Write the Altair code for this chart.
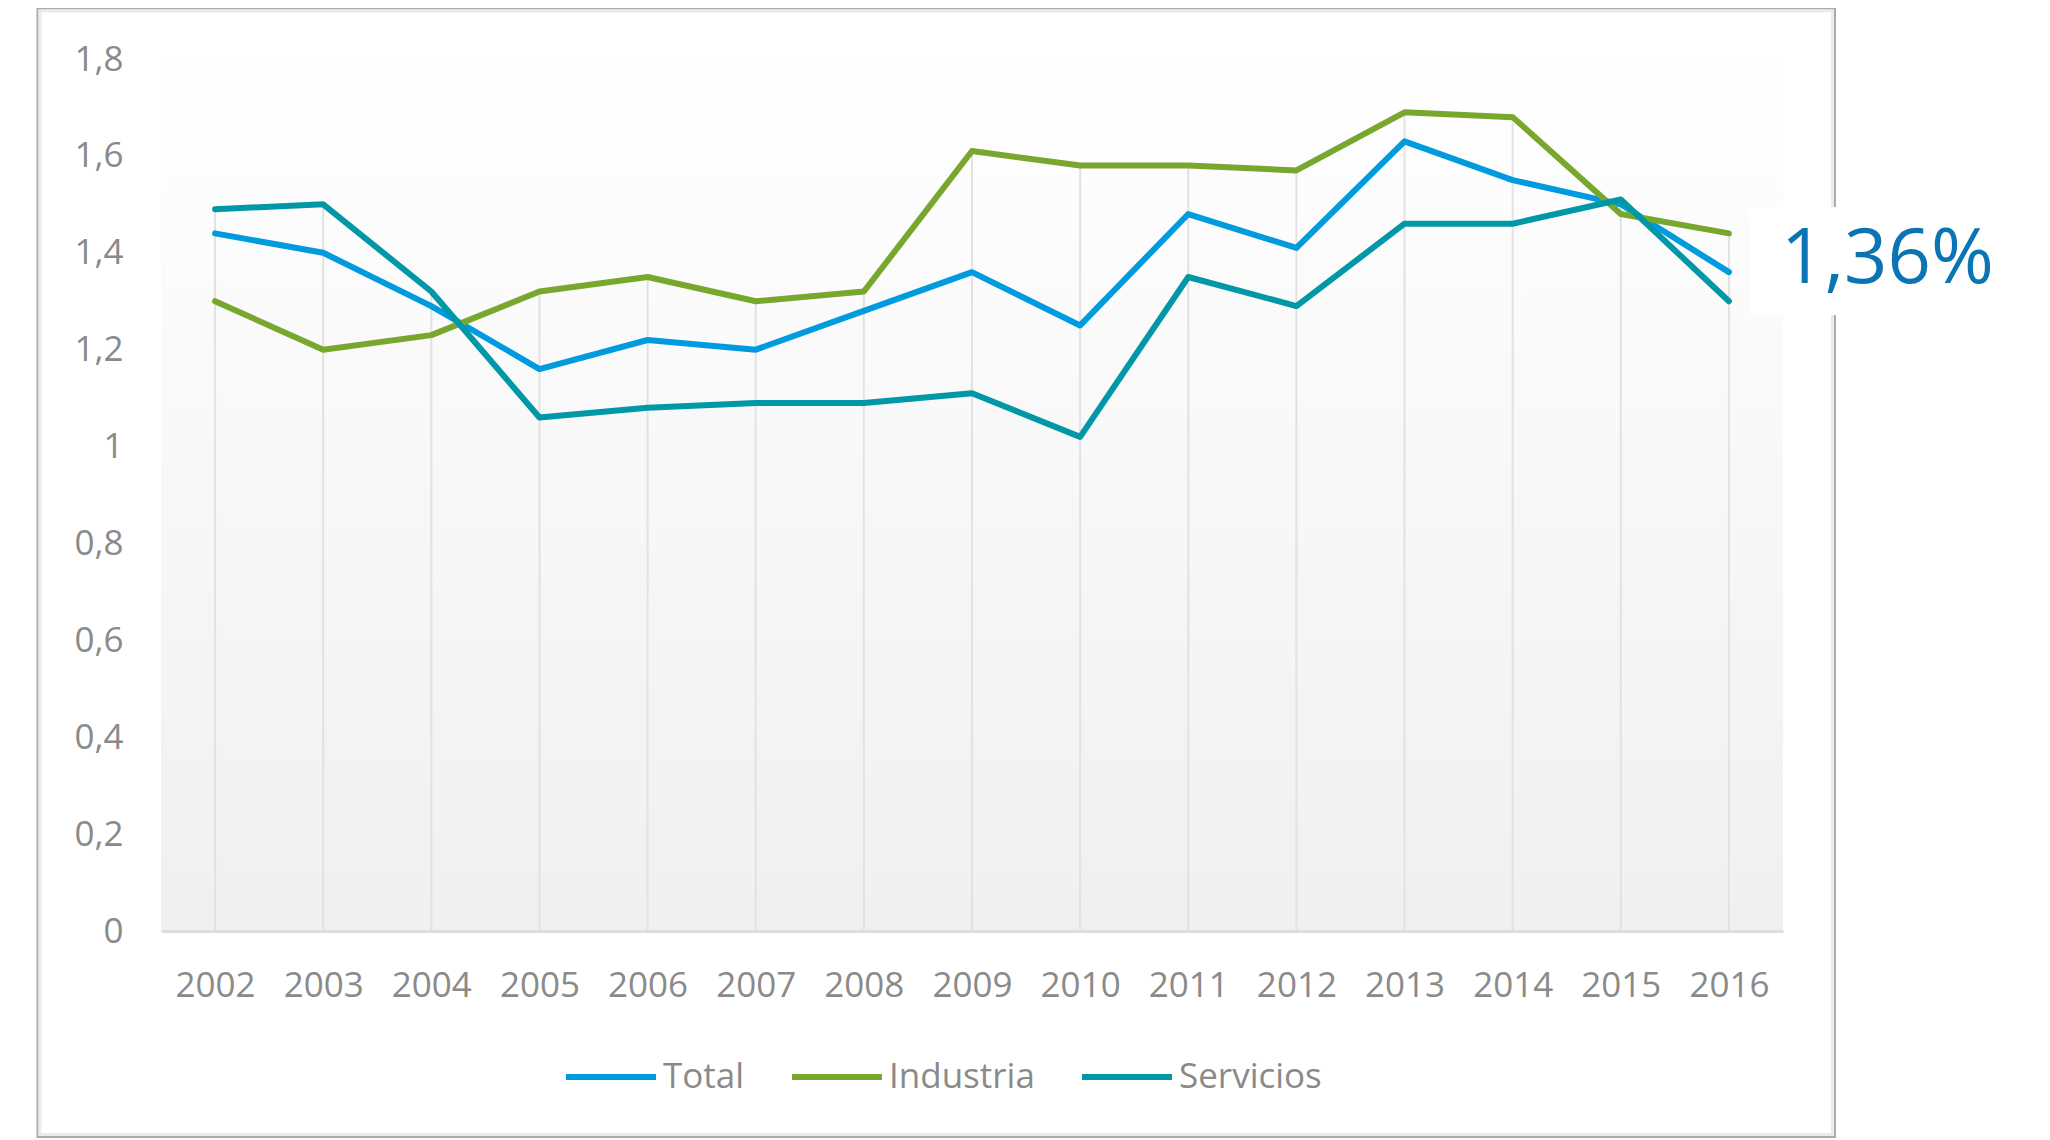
import altair as alt
import pandas as pd

# ---- data ----
years = ["2002", "2003", "2004", "2005", "2006", "2007", "2008", "2009",
         "2010", "2011", "2012", "2013", "2014", "2015", "2016"]
total = [1.44, 1.40, 1.29, 1.16, 1.22, 1.20, 1.28, 1.36, 1.25, 1.48, 1.41, 1.63, 1.55, 1.50, 1.36]
industria = [1.30, 1.20, 1.23, 1.32, 1.35, 1.30, 1.32, 1.61, 1.58, 1.58, 1.57, 1.69, 1.68, 1.48, 1.44]
servicios = [1.49, 1.50, 1.32, 1.06, 1.08, 1.09, 1.09, 1.11, 1.02, 1.35, 1.29, 1.46, 1.46, 1.51, 1.30]
series_names = ["Total", "Industria", "Servicios"]
series_colors = ["#009BDE", "#78A72E", "#0097A6"]
y_ticks = [0, 0.2, 0.4, 0.6, 0.8, 1.0, 1.2, 1.4, 1.6, 1.8]

rows = []
for i, (name, vals) in enumerate(zip(series_names, [total, industria, servicios])):
    for yr, v in zip(years, vals):
        rows.append({"year": yr, "value": v, "series": name, "series_order": i})
df = pd.DataFrame(rows)
annot_df = pd.DataFrame({"year": [years[-1]], "value": [total[-1]],
                         "label": [f"{total[-1]:.2f}".replace(".", ",") + "%"]})
one = pd.DataFrame({"k": [0]})

W, H = 1622, 872
FONT = "Open Sans"
GRAY = "#8A8A8A"

xscale = alt.Scale(type="point", padding=0.5, domain=years)
yscale = alt.Scale(domain=[0, 1.8], nice=False, zero=True)

gradient = alt.LinearGradient(
    gradient="linear",
    stops=[alt.GradientStop(color="#FFFFFF", offset=0),
           alt.GradientStop(color="#F0F0F0", offset=1)],
    x1=0, x2=0, y1=0, y2=1,
)

background = alt.Chart(one).mark_rect(color=gradient).encode(
    x=alt.value(0), x2=alt.value(W), y=alt.value(0), y2=alt.value(H)
)

# Excel "drop lines": from the highest series value down to the axis
drop_lines = alt.Chart(df).transform_aggregate(
    top="max(value)", groupby=["year"]
).mark_rule(color="#E2E2E2", strokeWidth=2).encode(
    x=alt.X("year:O", scale=xscale, title=None),
    y=alt.Y("top:Q", scale=yscale, title=None),
    y2=alt.datum(0),
)

lines = alt.Chart(df).mark_line(strokeWidth=6, strokeCap="round", strokeJoin="round").encode(
    x=alt.X("year:O", scale=xscale, title=None,
            axis=alt.Axis(grid=False, ticks=False, tickSize=0, domain=True,
                          domainColor="#DDDDDD", domainWidth=3,
                          labelFont=FONT, labelFontSize=35, labelColor=GRAY,
                          labelPadding=37, labelAngle=0, labelAlign="center",
                          labelBaseline="top", zindex=1)),
    y=alt.Y("value:Q", scale=yscale, title=None,
            axis=alt.Axis(values=y_ticks, grid=False, ticks=False, tickSize=0,
                          domain=False, labelFont=FONT, labelFontSize=35,
                          labelColor=GRAY, labelPadding=38, labelAlign="right",
                          labelBaseline="middle",
                          labelExpr="replace(format(datum.value, '~g'), '.', ',')")),
    color=alt.Color("series:N", title=None,
                    scale=alt.Scale(domain=series_names, range=series_colors),
                    sort=series_names,
                    legend=alt.Legend(orient="none", legendX=402, legendY=970,
                                      direction="horizontal", symbolType="stroke",
                                      symbolSize=8100, symbolStrokeWidth=6,
                                      labelFont=FONT, labelFontSize=35,
                                      labelColor=GRAY, labelOffset=4,
                                      columnPadding=35)),
    order=alt.Order("series_order:Q"),
)

frame_outer = alt.Chart(one).mark_rect(fillOpacity=0, stroke="#ABABAB", strokeWidth=2).encode(
    x=alt.value(-123.5), x2=alt.value(1674), y=alt.value(-50.5), y2=alt.value(1078)
)
frame_inner = alt.Chart(one).mark_rect(fillOpacity=0, stroke="#EBEBEB", strokeWidth=3).encode(
    x=alt.value(-121), x2=alt.value(1671.5), y=alt.value(-48), y2=alt.value(1075.5)
)

label_box = alt.Chart(one).mark_rect(color="#FFFFFF").encode(
    x=alt.value(1589), x2=alt.value(1700), y=alt.value(148), y2=alt.value(256)
)

annotation = alt.Chart(annot_df).mark_text(
    align="left", baseline="middle", dx=52, dy=-12,
    fontSize=76, font=FONT, color="#0A74B4"
).encode(
    x=alt.X("year:O", scale=xscale, title=None),
    y=alt.Y("value:Q", scale=yscale, title=None),
    text="label:N",
)

chart = alt.layer(
    background, drop_lines, frame_outer, frame_inner, lines, label_box, annotation
).properties(
    width=W, height=H,
    autosize="none",
    padding={"left": 153, "top": 51, "right": 240, "bottom": 208},
    background="#FFFFFF",
).configure_view(strokeWidth=0)

chart.save("out.html", embed_options={"renderer": "svg", "actions": False})
